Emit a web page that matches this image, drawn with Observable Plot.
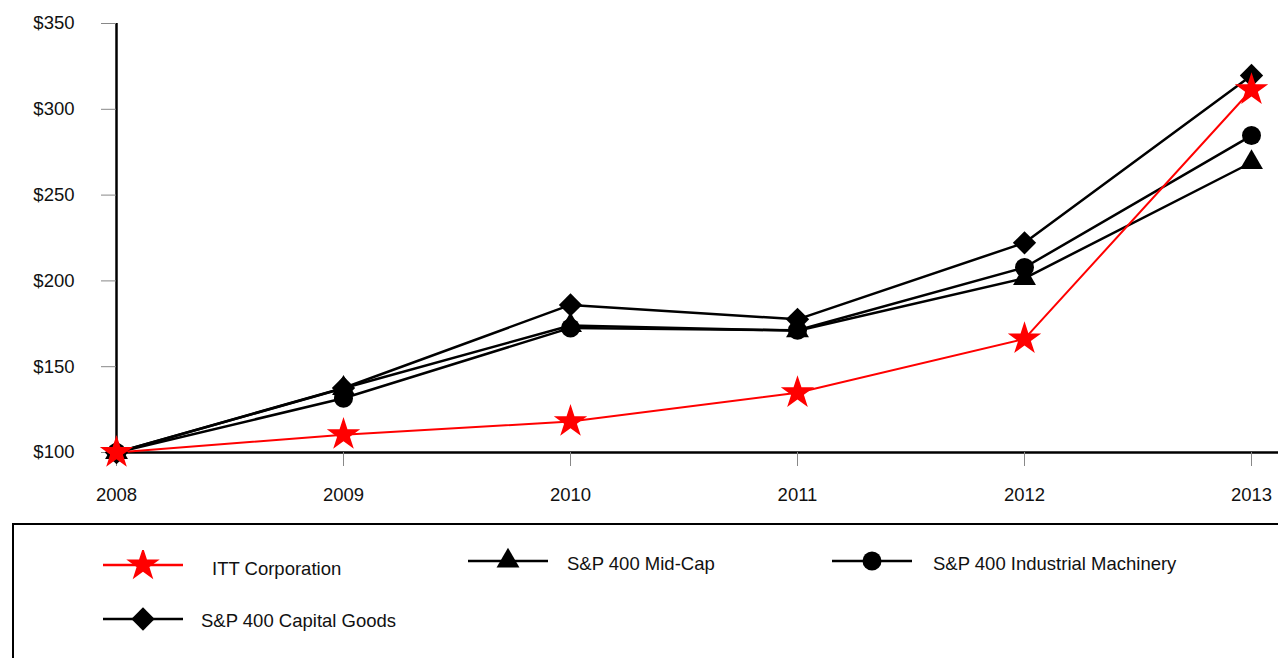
<!DOCTYPE html>
<html>
<head>
<meta charset="utf-8">
<script src="https://cdn.jsdelivr.net/npm/d3@7"></script>
<script src="https://cdn.jsdelivr.net/npm/@observablehq/plot@0.6"></script>
<style>
  html, body { margin: 0; padding: 0; background: #fff; overflow: hidden; }
  body { width: 1278px; height: 658px; font-family: "Liberation Sans", Arial, sans-serif; }
  #legend { position: relative; width: 1278px; height: 143px; overflow: hidden; }
  #legend .box { position: absolute; left: 12px; top: 8px; width: 1300px; height: 200px; border: 2px solid #000; box-sizing: border-box; }
  #legend .sw { position: absolute; }
  #legend .lab { position: absolute; font-size: 18.5px; color: #111; line-height: 22px; white-space: nowrap; }
</style>
</head>
<body>
<div id="chart"></div>
<div id="legend"><div class="box"></div></div>
<script>
const years = [2008, 2009, 2010, 2011, 2012, 2013];
const seriesNames = ["ITT Corporation", "S&P 400 Mid-Cap", "S&P 400 Industrial Machinery", "S&P 400 Capital Goods"];
const itt = [100, 110.4, 118.0, 134.8, 166.2, 311.4];
const midcap = [100, 137.4, 174.0, 171.0, 201.5, 269.0];
const machinery = [100, 131.6, 172.6, 171.2, 207.8, 284.7];
const capgoods = [100, 137.6, 186.0, 177.6, 222.2, 319.7];
const yTicks = [100, 150, 200, 250, 300, 350];

const styles = {
  "ITT Corporation": {color: "#ff0000", symbol: "star", r: 10.5, sw: 2},
  "S&P 400 Mid-Cap": {color: "#000000", symbol: "triangle", r: 8.5, sw: 2.5},
  "S&P 400 Industrial Machinery": {color: "#000000", symbol: "circle", r: 9.5, sw: 2.5},
  "S&P 400 Capital Goods": {color: "#000000", symbol: "diamond2", r: 10.5, sw: 2.5}
};

const valuesBySeries = {
  "ITT Corporation": itt,
  "S&P 400 Mid-Cap": midcap,
  "S&P 400 Industrial Machinery": machinery,
  "S&P 400 Capital Goods": capgoods
};

const drawOrder = ["S&P 400 Capital Goods", "S&P 400 Industrial Machinery", "S&P 400 Mid-Cap", "ITT Corporation"];

const marks = [
  Plot.ruleY([100], {stroke: "#000", strokeWidth: 2.5}),
  Plot.ruleX([2008], {y1: 100, y2: 350, stroke: "#000", strokeWidth: 2.5}),
  Plot.axisY(yTicks, {tickSize: 15, tickPadding: 27, stroke: "#888", tickFormat: d => "$" + d, fontSize: 18.5, fill: "#111", label: null}),
  Plot.axisX(years, {tickSize: 14, tickPadding: 21, stroke: "#888", tickFormat: d => String(d), fontSize: 18.5, fill: "#111", label: null})
];

for (const name of drawOrder) {
  const s = styles[name];
  const data = years.map((yr, i) => ({year: yr, value: valuesBySeries[name][i]}));
  marks.push(Plot.line(data, {x: "year", y: "value", stroke: s.color, strokeWidth: s.sw}));
}
for (const name of drawOrder) {
  const s = styles[name];
  const data = years.map((yr, i) => ({year: yr, value: valuesBySeries[name][i]}));
  marks.push(Plot.dot(data, {x: "year", y: "value", symbol: () => s.symbol, r: s.r, fill: s.color, stroke: "none"}));
}

const chart = Plot.plot({
  width: 1278,
  height: 515,
  marginLeft: 116,
  marginRight: 0,
  marginTop: 23,
  marginBottom: 63,
  style: {fontFamily: "'Liberation Sans', Arial, sans-serif", fontSize: "18.5px", background: "#fff"},
  x: {domain: [2008, 2013], range: [116, 1251], axis: null, label: null},
  y: {domain: [100, 350], axis: null, label: null},
  symbol: {type: "identity"},
  marks
});
document.getElementById("chart").appendChild(chart);

const legendItems = [
  {name: "ITT Corporation", lx: 103, ly: 50, tx: 212, ty: 54},
  {name: "S&P 400 Mid-Cap", lx: 468, ly: 46, tx: 567, ty: 49},
  {name: "S&P 400 Industrial Machinery", lx: 832, ly: 46, tx: 933, ty: 49},
  {name: "S&P 400 Capital Goods", lx: 103, ly: 104, tx: 201, ty: 106}
];
const symMap = {star: d3.symbolStar, triangle: d3.symbolTriangle, circle: d3.symbolCircle, diamond2: d3.symbolDiamond2};
const legend = d3.select("#legend");
for (const it of legendItems) {
  const s = styles[it.name];
  const svg = legend.append("svg").attr("class", "sw")
    .attr("width", 80).attr("height", 30)
    .style("left", it.lx + "px").style("top", (it.ly - 15) + "px");
  svg.append("line").attr("x1", 0).attr("x2", 80).attr("y1", 15).attr("y2", 15)
    .attr("stroke", s.color).attr("stroke-width", 2.5);
  svg.append("path").attr("transform", "translate(40,15)")
    .attr("d", d3.symbol(symMap[s.symbol], s.r * s.r * Math.PI)())
    .attr("fill", s.color);
  legend.append("div").attr("class", "lab")
    .style("left", it.tx + "px").style("top", (it.ty - 11) + "px")
    .text(it.name);
}
</script>
</body>
</html>
